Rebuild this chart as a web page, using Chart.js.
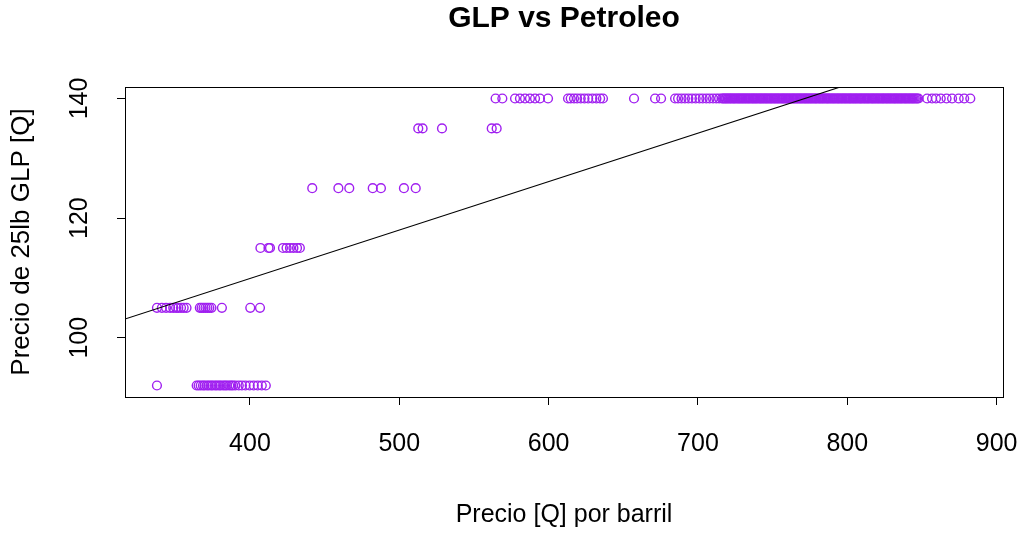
<!DOCTYPE html>
<html>
<head>
<meta charset="utf-8">
<script src="https://cdn.jsdelivr.net/npm/chart.js@4/dist/chart.umd.min.js"></script>
<style>
  html, body { margin: 0; padding: 0; background: #ffffff; }
  #wrap { width: 1021px; height: 535px; }
</style>
</head>
<body>
<div id="wrap"><canvas id="c" width="1021" height="535"></canvas></div>
<script>
// ---- Data ----
const chartTitle = "GLP vs Petroleo";
const xTitle = "Precio [Q] por barril";
const yTitle = "Precio de 25lb GLP [Q]";

const xTicks = [400, 500, 600, 700, 800, 900];
const yTicks = [100, 120, 140];
const xLimits = [316.3, 904.3];
const yLimits = [90.08, 141.92];

// GLP price levels (y) and the petroleum prices (x) observed at each level
const glpLevels = [92, 105, 115, 125, 135, 140];

const petroleoAt92 = [337.7, 364.3, 365.6, 367.0, 368.5, 369.6, 371.2, 372.4, 373.9, 375.0,
  376.6, 377.8, 379.3, 380.4, 382.0, 383.3, 384.5, 386.1, 387.4, 388.6, 390.2, 392.5,
  394.6, 397.0, 399.8, 402.5, 405.2, 407.9, 410.6];

const petroleoAt105 = [337.7, 341.0, 343.8, 346.5, 348.6, 350.5, 352.0, 353.8, 355.6, 357.5,
  366.4, 367.6, 368.9, 370.2, 371.5, 372.8, 374.2, 381.2, 400.2, 406.7];

const petroleoAt115 = [407.0, 412.4, 413.4, 422.1, 424.5, 426.8, 429.1, 431.5, 433.4];

const petroleoAt125 = [441.7, 459.2, 466.5, 482.2, 487.7, 503.1, 511.0];

const petroleoAt135 = [512.7, 515.6, 528.6, 561.9, 565.2];

const petroleoAt140 = [564.5, 569.0, 577.5, 580.8, 584.2, 587.5, 590.9, 594.2, 599.6,
  613.0, 614.8, 617.0, 619.1, 621.5, 624.0, 626.5, 629.3, 632.0, 634.5, 636.4,
  657.2, 671.3, 675.3, 684.7, 686.7, 689.0, 691.3, 693.6, 696.0, 698.5, 701.0,
  703.2, 705.6, 707.8, 710.1, 712.3, 714.2,
  716.0, 716.8, 717.5, 718.4, 719.0, 719.9, 720.6, 721.5, 722.1, 723.0, 723.8, 724.5,
  725.3, 726.2, 726.9, 727.7, 728.4, 729.3, 730.0, 730.8, 731.6, 732.3, 733.2, 733.9,
  734.7, 735.5, 736.4, 737.0, 737.9, 738.6, 739.4, 740.2, 741.1, 741.8, 742.5, 743.4,
  744.1, 745.0, 745.7, 746.5, 747.3, 748.2, 748.9, 749.6, 750.5, 751.3, 752.0, 752.9,
  753.6, 754.4, 755.2, 756.1, 756.8, 757.5, 758.4, 759.1, 760.0, 760.7, 761.5, 762.3,
  763.2, 763.9, 764.6, 765.5, 766.3, 767.0, 767.9, 768.6, 769.4, 770.2, 771.1, 771.8,
  772.5, 773.4, 774.1, 775.0, 775.7, 776.5, 777.3, 778.2, 778.9, 779.6, 780.5, 781.3,
  782.0, 782.9, 783.6, 784.4, 785.2, 786.1, 786.8, 787.5, 788.4, 789.1, 790.0, 790.7,
  791.5, 792.3, 793.2, 793.9, 794.6, 795.5, 796.3, 797.0, 797.9, 798.6, 799.4, 800.2,
  801.1, 801.8, 802.5, 803.4, 804.1, 805.0, 805.7, 806.5, 807.3, 808.2, 808.9, 809.6,
  810.5, 811.3, 812.0, 812.9, 813.6, 814.4, 815.2, 816.1, 816.8, 817.5, 818.4, 819.1,
  820.0, 820.7, 821.5, 822.3, 823.2, 823.9, 824.6, 825.5, 826.3, 827.0, 827.9, 828.6,
  829.4, 830.2, 831.1, 831.8, 832.5, 833.4, 834.1, 835.0, 835.7, 836.5, 837.3, 838.2,
  838.9, 839.6, 840.5, 841.3, 842.0, 842.9, 843.6, 844.4, 845.2, 846.1, 846.8, 847.7,
  853.5, 856.8, 859.4, 862.6, 866.5, 870.2, 874.6, 878.3, 882.4];

// Fitted regression line (abline): GLP = intercept + slope * petroleo
const lineIntercept = 77.5;
const lineSlope = 0.081;

// ---- Build the datasets ----
const petroleoByLevel = [petroleoAt92, petroleoAt105, petroleoAt115, petroleoAt125, petroleoAt135, petroleoAt140];
const scatterPoints = [];
glpLevels.forEach((lvl, i) => {
  petroleoByLevel[i].forEach(x => scatterPoints.push({ x: x, y: lvl }));
});
const fitPoints = xLimits.map(x => ({ x: x, y: lineIntercept + lineSlope * x }));

const FONT = "'Liberation Sans', Arial, 'DejaVu Sans', sans-serif";

const boxPlugin = {
  id: 'rbox',
  afterDraw(chart) {
    const a = chart.chartArea;
    const ctx = chart.ctx;
    ctx.save();
    ctx.strokeStyle = '#000000';
    ctx.lineWidth = 1;
    ctx.strokeRect(Math.round(a.left) + 0.5, Math.round(a.top) + 0.5,
      Math.round(a.right - a.left), Math.round(a.bottom - a.top));
    ctx.restore();
  }
};

new Chart(document.getElementById('c'), {
  type: 'scatter',
  data: {
    datasets: [
      {
        label: 'ajuste',
        type: 'line',
        data: fitPoints,
        borderColor: '#000000',
        borderWidth: 1.1,
        pointRadius: 0,
        fill: false,
        order: 0
      },
      {
        label: 'GLP vs Petroleo',
        data: scatterPoints,
        pointStyle: 'circle',
        pointRadius: 4.4,
        pointBorderWidth: 1.4,
        borderColor: '#A020F0',
        backgroundColor: 'rgba(0,0,0,0)',
        pointBackgroundColor: 'rgba(0,0,0,0)',
        pointBorderColor: '#A020F0',
        order: 1
      }
    ]
  },
  options: {
    responsive: false,
    animation: false,
    devicePixelRatio: 1,
    layout: { padding: { left: 0, right: 18, top: 0, bottom: 0 } },
    plugins: {
      legend: { display: false },
      tooltip: { enabled: false },
      title: {
        display: true,
        text: chartTitle,
        fullSize: false,
        color: '#000000',
        font: { family: FONT, size: 30, weight: 'bold', lineHeight: 1.2 },
        padding: { top: 1, bottom: 50 }
      }
    },
    scales: {
      x: {
        type: 'linear',
        position: 'bottom',
        min: xLimits[0],
        max: xLimits[1],
        afterBuildTicks: s => { s.ticks = xTicks.map(v => ({ value: v })); },
        afterFit: s => { s.height = 138; s.paddingLeft = 0; s.paddingRight = 0; },
        grid: { drawOnChartArea: false, drawTicks: true, tickLength: 8, color: '#000000', lineWidth: 1 },
        border: { display: true, color: '#000000', width: 1 },
        ticks: {
          color: '#000000',
          padding: 24,
          autoSkip: false,
          maxRotation: 0,
          font: { family: FONT, size: 25 },
          callback: v => String(v)
        },
        title: {
          display: true,
          text: xTitle,
          color: '#000000',
          font: { family: FONT, size: 25, lineHeight: 1.2 },
          padding: { top: 0, bottom: 5 }
        }
      },
      y: {
        type: 'linear',
        position: 'left',
        min: yLimits[0],
        max: yLimits[1],
        afterBuildTicks: s => { s.ticks = yTicks.map(v => ({ value: v })); },
        afterFit: s => { s.width = 125; s.paddingTop = 0; s.paddingBottom = 0; },
        grid: { drawOnChartArea: false, drawTicks: true, tickLength: 8, color: '#000000', lineWidth: 1 },
        border: { display: true, color: '#000000', width: 1 },
        ticks: {
          color: '#000000',
          padding: 16,
          minRotation: 90,
          maxRotation: 90,
          crossAlign: 'center',
          autoSkip: false,
          font: { family: FONT, size: 25 },
          callback: v => String(v)
        },
        title: {
          display: true,
          text: yTitle,
          color: '#000000',
          font: { family: FONT, size: 26, lineHeight: 1.2 },
          padding: { top: 6, bottom: 0 }
        }
      }
    }
  },
  plugins: [boxPlugin]
});
</script>
</body>
</html>
